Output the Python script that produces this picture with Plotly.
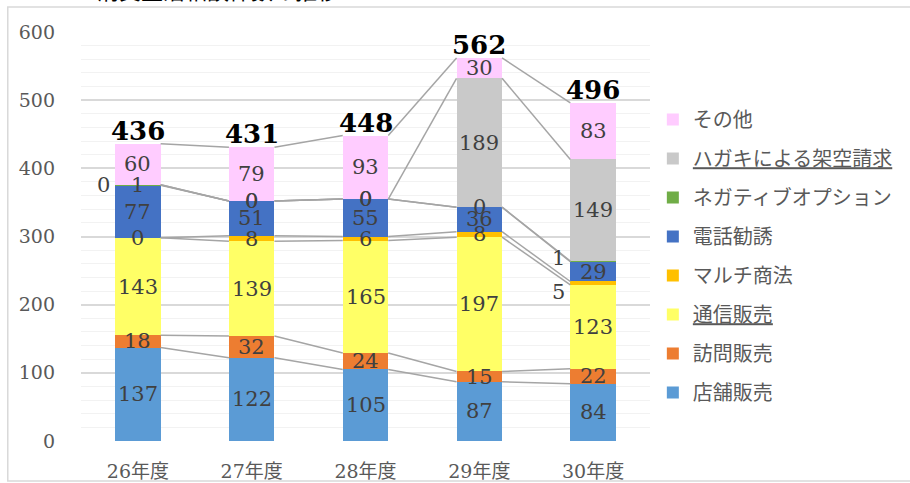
import plotly.graph_objects as go

categories = ["26年度", "27年度", "28年度", "29年度", "30年度"]
series_names = ["店舗販売", "訪問販売", "通信販売", "マルチ商法", "電話勧誘",
                "ネガティブオプション", "ハガキによる架空請求", "その他"]
tenpo = [137, 122, 105, 87, 84]
houmon = [18, 32, 24, 15, 22]
tsushin = [143, 139, 165, 197, 123]
multi = [0, 8, 6, 8, 5]
denwa = [77, 51, 55, 36, 29]
negative = [1, 0, 0, 0, 1]
hagaki = [0, 0, 0, 189, 149]
sonota = [60, 79, 93, 30, 83]
y_ticks = [0, 100, 200, 300, 400, 500, 600]

series_values = [tenpo, houmon, tsushin, multi, denwa, negative, hagaki, sonota]
colors = ["#5B9BD5", "#ED7D31", "#FFFF66", "#FFC000", "#4472C4",
          "#70AD47", "#C9C9C9", "#FFCCFF"]
underlined = {"通信販売", "ハガキによる架空請求"}
# labels that sit to the left of the bar: (series index, category index) -> pixel y shift
left_labels = {(6, 0): 0, (5, 4): 3, (3, 4): -9}

NUM_FONT = "DejaVu Serif, Noto Sans CJK JP"
W = 0.4
xs = list(range(len(categories)))

fig = go.Figure()

# cumulative bottoms / tops of each series
cum = [0] * len(categories)
tops, bottoms = [], []
for vals in series_values:
    bottoms.append(cum[:])
    cum = [c + v for c, v in zip(cum, vals)]
    tops.append(cum[:])

# series lines connecting the top of each segment between adjacent bars
lx, ly = [], []
for t in tops:
    for i in range(len(categories) - 1):
        lx += [i + W / 2, i + 1 - W / 2, None]
        ly += [t[i], t[i + 1], None]
fig.add_trace(go.Scatter(x=lx, y=ly, mode="lines", line=dict(color="#A5A5A5", width=1.5),
                         showlegend=False, hoverinfo="skip"))

n = len(series_names)
for k, (vals, col, nm) in enumerate(zip(series_values, colors, series_names)):
    label = f"<u>{nm}</u>" if nm in underlined else nm
    fig.add_trace(go.Bar(x=xs, y=vals, name=label, marker=dict(color=col, line=dict(width=0)),
                         width=W, legendgroup=str(k), legendrank=n - k))

annotations = []
for k, vals in enumerate(series_values):
    for i, v in enumerate(vals):
        yc = bottoms[k][i] + v / 2
        if (k, i) in left_labels:
            annotations.append(dict(x=i - W / 2, y=yc, xref="x", yref="y", text=str(v),
                                    showarrow=False, xanchor="right", xshift=-3,
                                    yshift=left_labels[(k, i)],
                                    font=dict(family=NUM_FONT, size=21, color="#404040")))
        else:
            annotations.append(dict(x=i, y=yc, xref="x", yref="y", text=str(v),
                                    showarrow=False, xanchor="center",
                                    font=dict(family=NUM_FONT, size=21, color="#404040")))

totals = tops[-1]
for i, t in enumerate(totals):
    annotations.append(dict(x=i, y=t, xref="x", yref="y", text=f"<b>{t}</b>", showarrow=False,
                            yanchor="bottom", yshift=-4,
                            font=dict(family=NUM_FONT, size=26, color="#000000")))

annotations.append(dict(x=0.024, y=1, xref="paper", yref="paper",
                        text="消費生活相談件数の推移", showarrow=False,
                        xanchor="left", yanchor="bottom", yshift=25,
                        font=dict(family="Noto Sans CJK JP", size=22, color="#000000")))

fig.update_layout(
    width=910, height=483,
    margin=dict(l=81, r=254, t=32, b=42),
    paper_bgcolor="white", plot_bgcolor="white",
    barmode="stack",
    showlegend=True,
    legend=dict(traceorder="grouped", tracegroupgap=10,
                x=1.005, xanchor="left", y=0.834, yanchor="top",
                font=dict(family="Noto Sans CJK JP", size=20, color="#595959"),
                itemclick=False),
    annotations=annotations,
    shapes=[dict(type="rect", xref="paper", yref="paper",
                 x0=-0.1287, x1=1.6, y0=-0.0978, y1=1.061,
                 line=dict(color="#D9D9D9", width=1.5), fillcolor="rgba(0,0,0,0)",
                 layer="below")],
    xaxis=dict(range=[-0.5, 4.5], tickvals=xs, ticktext=categories, showgrid=False,
               zeroline=False, showline=False, ticks="", automargin=False,
               ticklabelstandoff=17,
               tickfont=dict(family=NUM_FONT, size=19, color="#595959")),
    yaxis=dict(range=[0, 600], tickvals=y_ticks, showgrid=True, gridcolor="#D9D9D9",
               gridwidth=1.5, zeroline=False, showline=False, ticks="", automargin=False,
               ticklabelstandoff=25,
               minor=dict(dtick=20, showgrid=True, gridcolor="#F2F2F2", gridwidth=1.2),
               tickfont=dict(family=NUM_FONT, size=19, color="#595959")),
)

fig.write_html("out.html", config={"displayModeBar": False},
               post_script="document.body.style.margin='0';")
